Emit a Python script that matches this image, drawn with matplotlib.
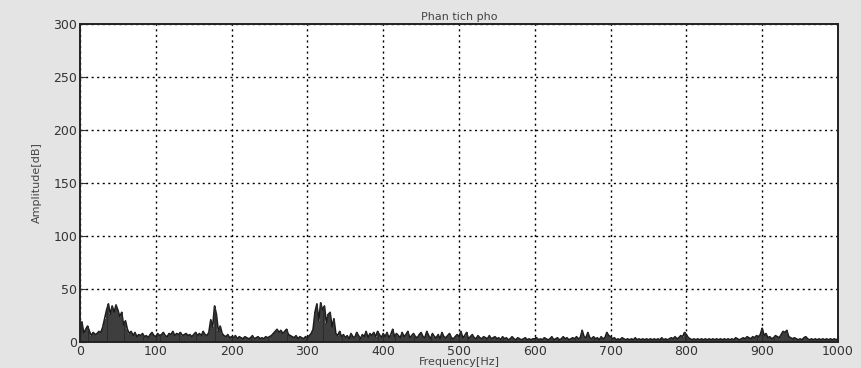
import matplotlib.pyplot as plt
import numpy as np

# spectrum amplitude, one value every 2.5 Hz from 0 to 1000 Hz
amp_000 = [3, 19, 8, 12, 15, 10, 6, 9, 7, 8, 10, 9, 14, 22, 30, 36, 26, 34, 28, 35]
amp_050 = [30, 24, 28, 16, 20, 12, 8, 10, 6, 9, 5, 7, 6, 8, 5, 6, 4, 7, 9, 6]
amp_100 = [5, 8, 6, 7, 9, 6, 5, 8, 7, 10, 6, 8, 7, 9, 6, 7, 8, 6, 7, 5]
amp_150 = [7, 9, 6, 8, 6, 10, 7, 6, 9, 21, 14, 34, 26, 10, 15, 8, 6, 5, 7, 4]
amp_200 = [5, 4, 6, 3, 5, 4, 3, 5, 4, 3, 4, 6, 3, 4, 5, 3, 4, 3, 5, 4]
amp_250 = [5, 6, 8, 10, 12, 9, 11, 8, 10, 12, 7, 6, 5, 4, 6, 3, 5, 4, 3, 5]
amp_300 = [4, 6, 8, 12, 28, 36, 20, 37, 30, 34, 18, 26, 28, 14, 22, 8, 6, 10, 5, 7]
amp_350 = [4, 6, 3, 8, 5, 4, 9, 6, 3, 7, 5, 10, 4, 8, 6, 9, 5, 10, 7, 4]
amp_400 = [8, 5, 9, 4, 7, 12, 5, 8, 6, 4, 9, 5, 7, 10, 4, 6, 8, 5, 4, 7]
amp_450 = [9, 5, 4, 10, 6, 3, 8, 5, 4, 7, 3, 9, 5, 4, 6, 8, 4, 3, 5, 7]
amp_500 = [5, 10, 4, 6, 9, 3, 5, 7, 4, 3, 6, 4, 3, 5, 4, 3, 6, 3, 4, 5]
amp_550 = [3, 4, 2, 5, 3, 4, 2, 3, 5, 3, 2, 4, 3, 2, 3, 4, 2, 3, 2, 3]
amp_600 = [3, 4, 2, 3, 2, 4, 3, 2, 3, 5, 2, 3, 4, 2, 3, 5, 3, 4, 2, 3]
amp_650 = [4, 3, 5, 3, 4, 11, 5, 4, 9, 4, 3, 5, 3, 4, 2, 5, 3, 4, 9, 6]
amp_700 = [5, 3, 4, 2, 3, 2, 4, 3, 2, 3, 2, 3, 2, 4, 2, 3, 2, 3, 2, 3]
amp_750 = [2, 3, 2, 3, 2, 3, 2, 4, 2, 3, 2, 3, 4, 3, 5, 3, 4, 6, 5, 9]
amp_800 = [7, 4, 3, 2, 3, 2, 3, 2, 3, 2, 3, 2, 3, 2, 3, 2, 3, 2, 3, 2]
amp_850 = [3, 2, 3, 2, 3, 2, 4, 3, 2, 3, 4, 3, 5, 4, 3, 5, 4, 6, 5, 7]
amp_900 = [13, 6, 8, 4, 5, 3, 4, 6, 5, 4, 7, 10, 9, 11, 5, 4, 3, 4, 3, 2]
amp_950 = [3, 2, 4, 5, 3, 2, 3, 2, 3, 2, 3, 2, 3, 2, 3, 2, 3, 2, 3, 2, 3]

amplitude = np.array(amp_000 + amp_050 + amp_100 + amp_150 + amp_200 + amp_250
                     + amp_300 + amp_350 + amp_400 + amp_450 + amp_500 + amp_550
                     + amp_600 + amp_650 + amp_700 + amp_750 + amp_800 + amp_850
                     + amp_900 + amp_950)
freq = np.linspace(0, 1000, len(amplitude))

x_ticks = [0, 100, 200, 300, 400, 500, 600, 700, 800, 900, 1000]
y_ticks = [0, 50, 100, 150, 200, 250, 300]

fig = plt.figure(figsize=(8.62, 3.68), dpi=100, facecolor="#e4e4e4")
ax = fig.add_axes([80 / 862, 26 / 368, 758 / 862, 318 / 368])
ax.set_facecolor("white")

ax.plot(freq, amplitude, color="#1a1a1a", linewidth=1.2)
ax.vlines(freq, 0, amplitude, color="#2a2a2a", linewidth=1.3)

ax.set_xlim(0, 1000)
ax.set_ylim(0, 300)
ax.set_xticks(x_ticks)
ax.set_yticks(y_ticks)
ax.grid(True, color="black", linestyle=(0, (1.5, 2.5)), linewidth=1.0)
ax.tick_params(direction="in", length=4, labelsize=9, colors="#333333", pad=2)
for spine in ax.spines.values():
    spine.set_linewidth(1.4)
    spine.set_color("#222222")

ax.set_title("Phan tich pho", fontsize=8, color="#444444", pad=3)
fig.text(459 / 862, 1 / 368, "Frequency[Hz]", fontsize=8, color="#444444",
         ha="center", va="bottom")
ax.set_ylabel("Amplitude[dB]", fontsize=8, color="#444444", labelpad=8)

fig.savefig("out.png", dpi=100, facecolor=fig.get_facecolor())
